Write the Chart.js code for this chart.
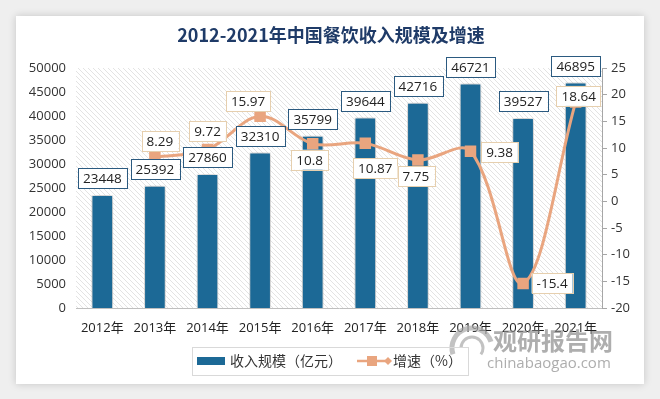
<!DOCTYPE html>
<html lang="zh">
<head>
<meta charset="UTF-8">
<title>2012-2021年中国餐饮收入规模及增速</title>
<script src="https://cdn.jsdelivr.net/npm/chart.js"></script>
<style>
  html, body { margin: 0; padding: 0; background: #efefef; }
  #wrap { width: 660px; height: 399px; position: relative; }
</style>
</head>
<body>
<div id="wrap"><canvas id="chart" width="660" height="399"></canvas></div>
<script>
// data
const years = ['2012年', '2013年', '2014年', '2015年', '2016年', '2017年', '2018年', '2019年', '2020年', '2021年'];
const revenue = [23448, 25392, 27860, 32310, 35799, 39644, 42716, 46721, 39527, 46895];
const growth = [null, 8.29, 9.72, 15.97, 10.8, 10.87, 7.75, 9.38, -15.4, 18.64];
const leftTicks = [0, 50000, 5000];   // min, max, step
const rightTicks = [-20, 25, 5];

const BLUE = '#1c6996';
const ORANGE = '#e9a57f';
const FONT = '"Open Sans", "Noto Sans CJK SC", sans-serif';
const CJK = '"Noto Sans CJK SC", sans-serif';

// card, title, hatched plot background
const backdrop = {
  id: 'backdrop',
  beforeDraw(chart) {
    const ctx = chart.ctx, a = chart.chartArea;
    ctx.save();
    ctx.fillStyle = '#efefef';
    ctx.fillRect(0, 0, chart.width, chart.height);
    ctx.shadowColor = 'rgba(0,0,0,0.18)';
    ctx.shadowBlur = 8;
    ctx.fillStyle = '#ffffff';
    ctx.fillRect(16, 16, 628, 368);
    ctx.shadowColor = 'transparent';

    const p = document.createElement('canvas');
    p.width = 5; p.height = 5;
    const pc = p.getContext('2d');
    pc.strokeStyle = '#e3e3e3';
    pc.lineWidth = 1;
    pc.beginPath();
    pc.moveTo(-1, -1); pc.lineTo(6, 6);
    pc.moveTo(-1, 4); pc.lineTo(1, 6);
    pc.moveTo(4, -1); pc.lineTo(6, 1);
    pc.stroke();
    ctx.fillStyle = ctx.createPattern(p, 'repeat');
    ctx.fillRect(a.left, a.top, a.right - a.left, a.bottom - a.top);

    ctx.fillStyle = '#1f3b68';
    ctx.font = 'bold 18px ' + CJK;
    ctx.textAlign = 'center';
    ctx.textBaseline = 'middle';
    ctx.fillText('2012-2021年中国餐饮收入规模及增速', 331, 35);
    ctx.restore();
  },
  beforeDatasetDraw(chart, args) {
    if (args.index !== 0) return;
    const ctx = chart.ctx;
    ctx.save();
    ctx.shadowColor = 'rgba(0,0,0,0.35)';
    ctx.shadowBlur = 7;
  },
  afterDatasetDraw(chart, args) {
    if (args.index !== 0) return;
    chart.ctx.restore();
  }
};

function box(ctx, cx, cy, text, border) {
  ctx.font = '13.5px ' + FONT;
  const w = ctx.measureText(text).width + 10;
  const h = 20;
  ctx.fillStyle = '#ffffff';
  ctx.fillRect(cx - w / 2, cy - h / 2, w, h);
  ctx.strokeStyle = border;
  ctx.lineWidth = 1;
  ctx.strokeRect(Math.round(cx - w / 2) + 0.5, Math.round(cy - h / 2) + 0.5, Math.round(w), h);
  ctx.fillStyle = '#222';
  ctx.textAlign = 'center';
  ctx.textBaseline = 'middle';
  ctx.fillText(text, cx, cy + 1);
}

// value boxes, legend, watermark
const labels = {
  id: 'labels',
  afterDatasetsDraw(chart, args, opts) {
    const ctx = chart.ctx;
    ctx.save();
    chart.getDatasetMeta(0).data.forEach((bar, i) => {
      box(ctx, bar.x, bar.y - 17, String(revenue[i]), '#2b5a80');
    });
    chart.getDatasetMeta(1).data.forEach((pt, i) => {
      if (growth[i] === null) return;
      const o = opts.offsets[i];
      box(ctx, pt.x + o[0], pt.y + o[1], String(growth[i]), '#e6cfae');
    });
    ctx.restore();
  },
  afterDraw(chart) {
    const ctx = chart.ctx;
    ctx.save();
    // watermark
    ctx.globalAlpha = 0.7;
    ctx.strokeStyle = '#a8a8a8';
    ctx.lineWidth = 5;
    ctx.beginPath();
    ctx.arc(472, 348, 20, Math.PI * 0.9, Math.PI * 1.9);
    ctx.stroke();
    ctx.lineWidth = 3;
    ctx.beginPath();
    ctx.arc(472, 348, 11, Math.PI * 1.0, Math.PI * 2.2);
    ctx.stroke();
    ctx.fillStyle = '#8c8c8c';
    ctx.font = 'bold 24px ' + CJK;
    ctx.textAlign = 'left';
    ctx.textBaseline = 'middle';
    ctx.fillText('观研报告网', 493, 341);
    ctx.font = '15px ' + FONT;
    ctx.fillStyle = '#8a8a8a';
    ctx.fillText('chinabaogao.com', 487, 364);
    ctx.globalAlpha = 1;

    // legend
    ctx.strokeStyle = '#d9d9d9';
    ctx.lineWidth = 1;
    ctx.strokeRect(192.5, 347.5, 276, 28);
    ctx.fillStyle = BLUE;
    ctx.fillRect(197, 357, 28, 8);
    ctx.fillStyle = '#333';
    ctx.font = '14px ' + CJK;
    ctx.textBaseline = 'middle';
    ctx.fillText(chart.data.datasets[0].label, 230, 361);
    ctx.strokeStyle = ORANGE;
    ctx.lineWidth = 2.5;
    ctx.beginPath();
    ctx.moveTo(357, 361); ctx.lineTo(387, 361);
    ctx.stroke();
    ctx.fillStyle = ORANGE;
    ctx.fillRect(367, 356, 10, 10);
    ctx.beginPath();
    ctx.moveTo(388, 357); ctx.lineTo(392, 361); ctx.lineTo(388, 365); ctx.lineTo(384, 361);
    ctx.fill();
    ctx.fillStyle = '#333';
    ctx.fillText(chart.data.datasets[1].label, 393, 361);
    ctx.restore();
  }
};

new Chart(document.getElementById('chart'), {
  data: {
    labels: years,
    datasets: [
      {
        type: 'bar',
        label: '收入规模（亿元）',
        data: revenue,
        backgroundColor: BLUE,
        borderColor: 'rgba(255,255,255,0.6)',
        borderWidth: 1,
        barThickness: 21,
        yAxisID: 'y',
        order: 1
      },
      {
        type: 'line',
        label: '增速（%）',
        data: growth,
        borderColor: ORANGE,
        backgroundColor: ORANGE,
        borderWidth: 3,
        tension: 0.35,
        pointStyle: 'rect',
        pointRadius: 6,
        pointHoverRadius: 6,
        yAxisID: 'y1',
        order: 0
      }
    ]
  },
  options: {
    responsive: false,
    animation: false,
    events: [],
    layout: { padding: { top: 68, left: 0, right: 0, bottom: 0 } },
    plugins: {
      legend: { display: false },
      title: { display: false },
      tooltip: { enabled: false },
      labels: {
        offsets: [[0, 0], [5, -16], [0, -18], [-12, -15], [-3, 16], [10, 25], [-2, 16], [29, 1], [29, 0], [3, -6]]
      }
    },
    scales: {
      x: {
        grid: { display: false, drawTicks: false },
        border: { display: true, color: '#bfbfbf', width: 1 },
        ticks: { color: '#222', font: { size: 13, family: FONT }, padding: 12, maxRotation: 0, autoSkip: false },
        afterFit(s) { s.height = 91; }
      },
      y: {
        position: 'left',
        min: leftTicks[0], max: leftTicks[1],
        ticks: { stepSize: leftTicks[2], color: '#333', font: { size: 13, family: FONT }, padding: 10,
                 callback: v => String(v) },
        grid: { display: false, drawTicks: false },
        border: { display: false },
        afterFit(s) { s.width = 76; }
      },
      y1: {
        position: 'right',
        min: rightTicks[0], max: rightTicks[1],
        ticks: { stepSize: rightTicks[2], color: '#333', font: { size: 13, family: FONT }, padding: 4,
                 callback: v => String(v) },
        grid: { drawOnChartArea: false, tickLength: 5, color: '#a6a6a6' },
        border: { display: true, color: '#a6a6a6' },
        afterFit(s) { s.width = 58; }
      }
    }
  },
  plugins: [backdrop, labels]
});
</script>
</body>
</html>
